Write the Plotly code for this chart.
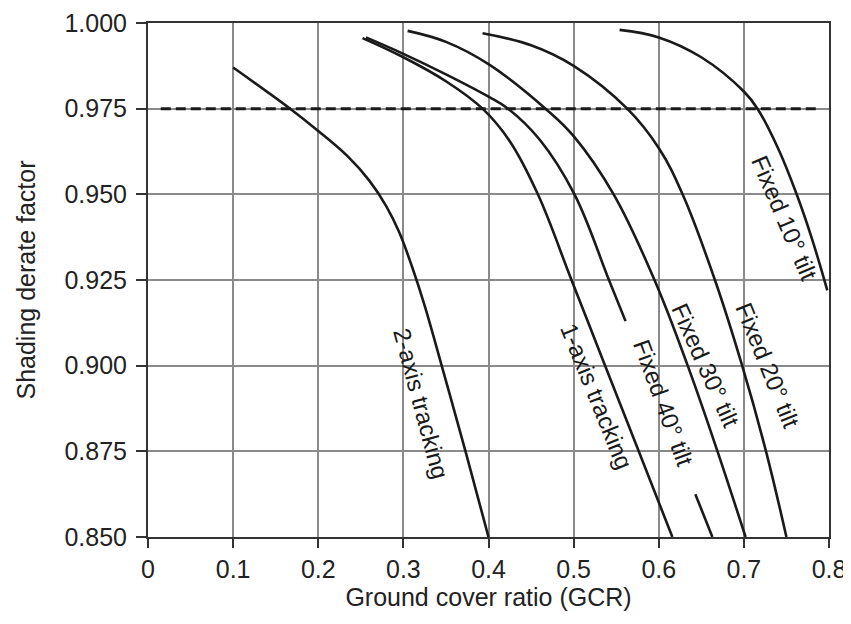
import plotly.graph_objects as go

# ---- data ----
two_axis_x = [0.100, 0.167, 0.200, 0.235, 0.260, 0.280, 0.295, 0.310, 0.325, 0.345, 0.373, 0.400]
two_axis_y = [0.987, 0.975, 0.9685, 0.961, 0.954, 0.9465, 0.939, 0.929, 0.9175, 0.900, 0.875, 0.850]

one_axis_x = [0.252, 0.300, 0.350, 0.393, 0.425, 0.458, 0.4975, 0.537, 0.5765, 0.616]
one_axis_y = [0.9956, 0.990, 0.983, 0.975, 0.9655, 0.950, 0.925, 0.900, 0.875, 0.850]

fixed40_x = [0.256, 0.300, 0.350, 0.400, 0.423, 0.460, 0.501, 0.5415, 0.561, None, 0.643, 0.663]
fixed40_y = [0.9958, 0.991, 0.985, 0.9785, 0.975, 0.966, 0.950, 0.925, 0.913, None, 0.8625, 0.850]

fixed30_x = [0.305, 0.350, 0.400, 0.467, 0.500, 0.547, 0.595, 0.634, 0.669, 0.702]
fixed30_y = [0.9977, 0.9945, 0.988, 0.975, 0.967, 0.950, 0.925, 0.900, 0.875, 0.850]

fixed20_x = [0.393, 0.450, 0.500, 0.563, 0.600, 0.628, 0.666, 0.698, 0.726, 0.750]
fixed20_y = [0.997, 0.9935, 0.9875, 0.975, 0.9635, 0.950, 0.925, 0.900, 0.875, 0.850]

fixed10_x = [0.554, 0.600, 0.650, 0.700, 0.716, 0.740, 0.762, 0.780, 0.798]
fixed10_y = [0.998, 0.9958, 0.990, 0.980, 0.975, 0.9635, 0.950, 0.937, 0.922]

threshold_x = [0.015, 0.785]
threshold_y = [0.975, 0.975]

x_tickvals = [0, 0.1, 0.2, 0.3, 0.4, 0.5, 0.6, 0.7, 0.8]
x_ticktext = ["0", "0.1", "0.2", "0.3", "0.4", "0.5", "0.6", "0.7", "0.8"]
y_tickvals = [0.850, 0.875, 0.900, 0.925, 0.950, 0.975, 1.000]
y_ticktext = ["0.850", "0.875", "0.900", "0.925", "0.950", "0.975", "1.000"]

label_texts = ["2-axis tracking", "1-axis tracking", "Fixed 40° tilt",
               "Fixed 30° tilt", "Fixed 20° tilt", "Fixed 10° tilt"]

# ---- label placement (layout) ----
label_pos = [(0.321, 0.889, 75), (0.527, 0.891, 68), (0.606, 0.889, 70),
             (0.655, 0.900, 66), (0.728, 0.900, 68), (0.748, 0.943, 67)]

FONT = "Liberation Sans, Arial, Helvetica, sans-serif"
INK = "#1a1a1a"

fig = go.Figure()
series = [(two_axis_x, two_axis_y), (one_axis_x, one_axis_y), (fixed40_x, fixed40_y),
          (fixed30_x, fixed30_y), (fixed20_x, fixed20_y), (fixed10_x, fixed10_y)]
for (xs, ys), name in zip(series, label_texts):
    fig.add_trace(go.Scatter(x=xs, y=ys, mode="lines", name=name,
                             line=dict(color=INK, width=2.6, shape="spline", smoothing=1.1),
                             connectgaps=False, showlegend=False))

fig.add_trace(go.Scatter(x=threshold_x, y=threshold_y, mode="lines",
                         line=dict(color=INK, width=3, dash="10px,5px"),
                         showlegend=False))

for txt, (lx, ly, ang) in zip(label_texts, label_pos):
    fig.add_annotation(x=lx, y=ly, text=txt, textangle=ang, showarrow=False,
                       xanchor="center", yanchor="middle",
                       font=dict(family=FONT, size=24, color=INK))

# the page body adds an 8px offset, so the figure is sized/margined to compensate
fig.update_layout(
    width=843, height=616,
    margin=dict(l=140, r=22, t=15, b=87, autoexpand=False),
    paper_bgcolor="white", plot_bgcolor="white",
    font=dict(family=FONT, size=25, color="#222"),
)
fig.update_xaxes(range=[0, 0.8], tickvals=x_tickvals, ticktext=x_ticktext,
                 automargin=False,
                 showgrid=True, gridcolor="#8a8a8a", gridwidth=1.6,
                 showline=True, linecolor="#333", linewidth=2, mirror=True,
                 ticks="outside", ticklen=9, tickwidth=1.5, tickcolor="#333",
                 zeroline=False,
                 title=dict(text="Ground cover ratio (GCR)", standoff=0,
                            font=dict(family=FONT, size=25, color="#222")))
fig.update_yaxes(range=[0.85, 1.0], tickvals=y_tickvals, ticktext=y_ticktext,
                 automargin=False, ticklabelstandoff=4,
                 showgrid=True, gridcolor="#8a8a8a", gridwidth=1.6,
                 showline=True, linecolor="#333", linewidth=2, mirror=True,
                 ticks="outside", ticklen=10, tickwidth=1.5, tickcolor="#333",
                 zeroline=False,
                 title=dict(text="Shading derate factor", standoff=22,
                            font=dict(family=FONT, size=25, color="#222")))

fig.write_html("out.html")
